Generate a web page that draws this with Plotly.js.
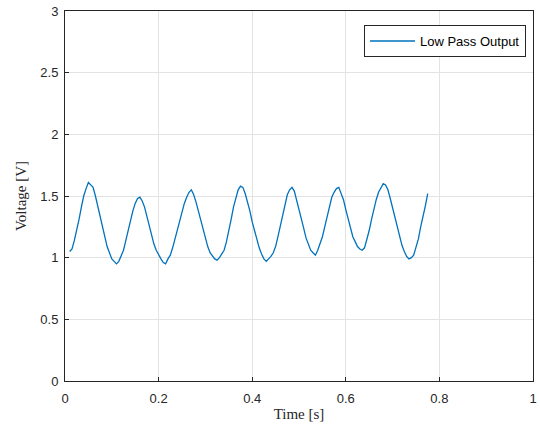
<!DOCTYPE html>
<html>
<head>
<meta charset="utf-8">
<script src="https://cdn.plot.ly/plotly-3.0.1.min.js"></script>
<style>html,body{margin:0;padding:0;background:#fff;}#chart{width:540px;height:430px;}</style>
</head>
<body>
<div id="chart"></div>
<script>
var seriesName = "Low Pass Output";
var time = [
0.010,0.015,0.020,0.025,0.030,0.035,0.040,0.045,0.050,0.055,
0.060,0.065,0.070,0.075,0.080,0.085,0.090,0.095,0.100,0.105,
0.110,0.115,0.120,0.125,0.130,0.135,0.140,0.145,0.150,0.155,
0.160,0.165,0.170,0.175,0.180,0.185,0.190,0.195,0.200,0.205,
0.210,0.215,0.220,0.225,0.230,0.235,0.240,0.245,0.250,0.255,
0.260,0.265,0.270,0.275,0.280,0.285,0.290,0.295,0.300,0.305,
0.310,0.315,0.320,0.325,0.330,0.335,0.340,0.345,0.350,0.355,
0.360,0.365,0.370,0.375,0.380,0.385,0.390,0.395,0.400,0.405,
0.410,0.415,0.420,0.425,0.430,0.435,0.440,0.445,0.450,0.455,
0.460,0.465,0.470,0.475,0.480,0.485,0.490,0.495,0.500,0.505,
0.510,0.515,0.520,0.525,0.530,0.535,0.540,0.545,0.550,0.555,
0.560,0.565,0.570,0.575,0.580,0.585,0.590,0.595,0.600,0.605,
0.610,0.615,0.620,0.625,0.630,0.635,0.640,0.645,0.650,0.655,
0.660,0.665,0.670,0.675,0.680,0.685,0.690,0.695,0.700,0.705,
0.710,0.715,0.720,0.725,0.730,0.735,0.740,0.745,0.750,0.755,
0.760,0.765,0.770,0.775];
var voltage = [
1.05,1.07,1.14,1.22,1.31,1.41,1.50,1.56,1.61,1.59,
1.57,1.50,1.42,1.33,1.25,1.17,1.09,1.04,0.99,0.97,
0.95,0.97,1.01,1.06,1.14,1.22,1.31,1.38,1.44,1.48,
1.49,1.46,1.41,1.33,1.26,1.18,1.11,1.06,1.02,0.99,
0.96,0.95,0.99,1.02,1.08,1.15,1.22,1.30,1.38,1.44,
1.49,1.53,1.55,1.51,1.45,1.38,1.30,1.22,1.16,1.09,
1.04,1.01,0.99,0.98,1.00,1.03,1.06,1.13,1.21,1.31,
1.41,1.49,1.55,1.58,1.57,1.52,1.46,1.38,1.29,1.22,
1.14,1.08,1.03,0.99,0.97,0.99,1.01,1.04,1.09,1.17,
1.26,1.35,1.44,1.51,1.55,1.57,1.54,1.47,1.38,1.31,
1.24,1.16,1.10,1.06,1.04,1.02,1.06,1.11,1.17,1.25,
1.33,1.42,1.49,1.53,1.56,1.57,1.52,1.47,1.39,1.32,
1.24,1.17,1.13,1.09,1.07,1.06,1.08,1.14,1.22,1.31,
1.40,1.47,1.53,1.57,1.60,1.59,1.55,1.48,1.40,1.32,
1.24,1.16,1.10,1.05,1.01,0.99,1.00,1.02,1.08,1.15,
1.25,1.33,1.42,1.52];
var xTicks = [0, 0.2, 0.4, 0.6, 0.8, 1];
var xTickText = ["0", "0.2", "0.4", "0.6", "0.8", "1"];
var yTicks = [0, 0.5, 1, 1.5, 2, 2.5, 3];
var yTickText = ["0", "0.5", "1", "1.5", "2", "2.5", "3"];

var trace = {
  x: time, y: voltage, type: "scatter", mode: "lines", name: seriesName,
  line: {color: "#0072BD", width: 1.3}
};
var axisCommon = {
  showline: true, mirror: true, linecolor: "#262626", linewidth: 1,
  ticks: "inside", ticklen: 4, tickcolor: "#262626", tickwidth: 1,
  showgrid: true, gridcolor: "#e3e3e3", gridwidth: 1, zeroline: false,
  tickfont: {family: "Liberation Sans, Arial, sans-serif", size: 13, color: "#262626"}
};
var layout = {
  width: 540, height: 430,
  margin: {l: 65, r: 7, t: 11, b: 49},
  paper_bgcolor: "#ffffff", plot_bgcolor: "#ffffff",
  showlegend: true,
  legend: {
    x: 0.985, y: 0.962, xanchor: "right", yanchor: "top",
    bordercolor: "#262626", borderwidth: 1, bgcolor: "#ffffff",
    font: {family: "Liberation Sans, Arial, sans-serif", size: 13, color: "#000"},
    tracegroupgap: 0, itemwidth: 45
  },
  xaxis: Object.assign({}, axisCommon, {
    range: [0, 1], tickvals: xTicks, ticktext: xTickText, ticklabelstandoff: 5,
    title: {text: "Time [s]", standoff: 3, font: {family: "Liberation Serif, Times New Roman, serif", size: 15, color: "#262626"}}
  }),
  yaxis: Object.assign({}, axisCommon, {
    range: [0, 3], tickvals: yTicks, ticktext: yTickText, ticklabelstandoff: 3,
    title: {text: "Voltage [V]", standoff: 10, font: {family: "Liberation Serif, Times New Roman, serif", size: 15, color: "#262626"}}
  })
};
Plotly.newPlot("chart", [trace], layout, {displayModeBar: false, staticPlot: true});
</script>
</body>
</html>
